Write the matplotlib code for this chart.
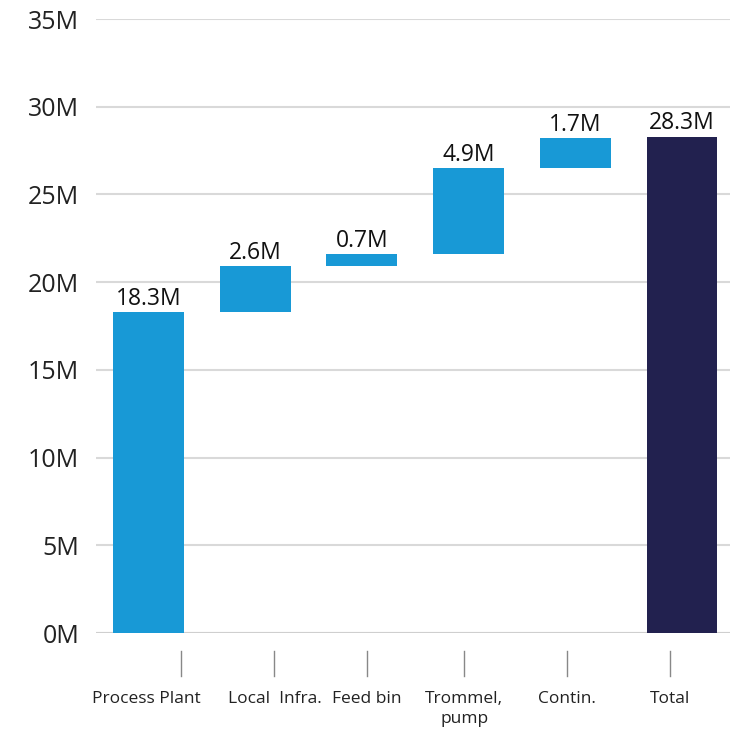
import matplotlib.pyplot as plt
from matplotlib.transforms import blended_transform_factory
import numpy as np

plt.rcParams['font.family'] = ['Open Sans', 'DejaVu Sans']

categories = ["Process Plant", "Local  Infra.", "Feed bin", "Trommel,\npump", "Contin.", "Total"]
steps = [18.3, 2.6, 0.7, 4.9, 1.7]
total = 28.3

# tick / label offsets along x (in category units)
tick_x = [0.30, 1.18, 2.05, 2.96, 3.92, 4.89]
label_x = [-0.02, 1.18, 2.05, 2.96, 3.92, 4.89]

blue = '#1899D6'
navy = '#22214F'

fig = plt.figure(figsize=(7.30, 7.32), dpi=100)
ax = fig.add_axes([0.1315, 0.1352, 0.8685, 0.8388])

x = np.arange(len(categories))
bottoms = np.concatenate([[0], np.cumsum(steps)[:-1]])
heights = np.array(steps)

w = 0.665
ax.bar(x[:-1], heights, bottom=bottoms, width=w, color=blue, zorder=3)
ax.bar(x[-1], total, width=w, color=navy, zorder=3)

labels_val = list(steps) + [total]
tops = list(bottoms + heights) + [total]
for xi, v, t in zip(x, labels_val, tops):
    ax.annotate(f"{v:.1f}M", (xi, t), xytext=(0, 1), textcoords='offset points',
                ha='center', va='bottom', fontsize=16.5, color='#111111')

ax.set_ylim(0, 35)
ax.set_xlim(-0.492, 5.45)
ax.set_yticks(np.arange(0, 36, 5))
ax.set_yticklabels([f"{v}M" for v in range(0, 36, 5)], fontsize=18, color='#222222')
ax.tick_params(axis='y', length=0, pad=12)
ax.grid(axis='y', color='#D9D9D9', linewidth=1.5, zorder=0)
for s in ax.spines.values():
    s.set_visible(False)
ax.axhline(0, color='#CFCFCF', linewidth=1.5, zorder=2)

ax.set_xticks([])
trans = blended_transform_factory(ax.transData, fig.transFigure)
for tx in tick_x:
    ax.plot([tx, tx], [1 - 651 / 732, 1 - 676 / 732], transform=trans,
            color='#888888', linewidth=1, clip_on=False)
for lx, name in zip(label_x, categories):
    ax.text(lx, 1 - 691 / 732, name, transform=trans, ha='center', va='top',
            fontsize=12.5, color='#222222', linespacing=1.3)

fig.savefig('out.png', dpi=100)
